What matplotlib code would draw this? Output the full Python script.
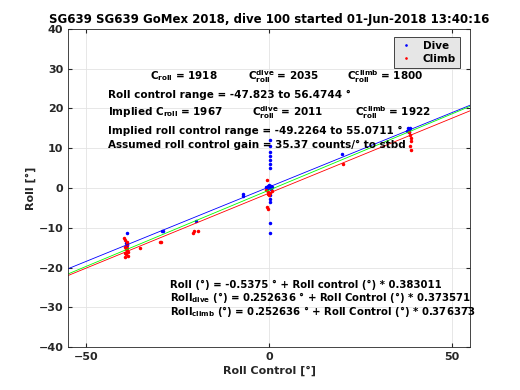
import matplotlib
matplotlib.use('Agg')
import matplotlib.pyplot as plt
import numpy as np

# Данные: точки погружения (dive) и всплытия (climb)
dive_x = [-38.9, -39.1, -39.0, -29.3, -29.0, -20.0, -7.1, -7.2,
          -0.8, -0.3, 0.2, 0.6, 0.9, 0.4, -0.5, 0.0,
          0.3, 0.3, 0.3, 0.3, 0.3, 0.3, 0.3, 0.3, 0.3, 0.3, 0.3, 0.3,
          20.0, 38.0, 38.4, 38.2, 38.6, 37.8]
dive_y = [-11.2, -13.8, -14.4, -10.8, -10.9, -8.4, -1.5, -2.0,
          0.2, 0.6, 0.0, 0.5, 0.2, -0.3, -0.2, 0.8,
          12.0, 10.5, 9.0, 8.0, 7.0, 6.0, 5.0, -1.8, -2.8, -3.5, -8.8, -11.3,
          8.5, 15.0, 14.6, 14.0, 15.2, 14.4]

climb_x = [-39.6, -39.3, -39.0, -38.8, -39.5, -39.2, -38.9, -39.4, -39.1, -38.7, -39.3, -38.6, -39.0,
           -35.2, -29.6, -29.8, -20.8, -20.5, -19.5,
           -0.5, -0.8, -0.2, 0.3, 0.8, -0.4, 0.1, -0.6, -0.2,
           20.1, 38.3, 38.6, 38.9, 38.7, 38.5, 38.8]
climb_y = [-12.6, -13.0, -13.5, -14.2, -14.8, -15.3, -15.8, -16.3, -16.7, -17.1, -17.4, -16.0, -15.0,
           -15.1, -13.5, -13.7, -11.3, -10.8, -10.7,
           2.0, -0.5, -0.9, -1.2, -0.7, -1.5, -1.8, -4.8, -5.2,
           6.0, 14.0, 13.3, 12.5, 11.8, 10.5, 9.5]

# Линии аппроксимации: (пересечение, наклон)
fit_names = ['dive', 'all', 'climb']
fit_icpt = [0.2526, -0.5375, -1.3]
fit_slope = [0.3736, 0.3830, 0.3764]
fit_colors = ['b', 'lime', 'r']
line_x = [-55, 55]

plt.rcParams['font.family'] = 'DejaVu Sans'
plt.rcParams['font.weight'] = 'bold'
plt.rcParams['mathtext.fontset'] = 'dejavusans'
plt.rcParams['mathtext.default'] = 'bf'

fig = plt.figure(figsize=(5.2, 3.9), dpi=100)
ax = fig.add_axes([0.131, 0.110, 0.773, 0.816])

ax.plot(dive_x, dive_y, '.', color='b', markersize=3, label='Dive')
ax.plot(climb_x, climb_y, '.', color='r', markersize=3, label='Climb')
for a, b, c in zip(fit_icpt, fit_slope, fit_colors):
    xs = np.array(line_x)
    ax.plot(xs, a + b * xs, color=c, linewidth=0.6)

ax.set_xlim(-55, 55)
ax.set_ylim(-40, 40)
ax.set_xticks([-50, 0, 50])
ax.set_yticks(np.arange(-40, 41, 10))
ax.grid(True, color='#e3e3e3', linewidth=0.6)
ax.set_axisbelow(True)
ax.tick_params(direction='in', top=True, right=True, labelsize=8, length=3,
               color='#262626', labelcolor='#262626')
for lab in ax.get_xticklabels() + ax.get_yticklabels():
    lab.set_fontweight('bold')
for s in ax.spines.values():
    s.set_color('#262626')
    s.set_linewidth(0.6)

ax.set_xlabel('Roll Control [°]', fontsize=8, fontweight='bold', color='#262626', labelpad=3)
ax.set_ylabel('Roll [°]', fontsize=8, fontweight='bold', color='#262626', labelpad=2)
ax.set_title('SG639 SG639 GoMex 2018, dive 100 started 01-Jun-2018 13:40:16',
             fontsize=8.5, fontweight='bold', pad=4)

fs = 7.5
kw = dict(fontsize=fs, fontweight='bold', va='center')
ax.text(-32.5, 28.0, r'$C_{roll}$ = 1918', **kw)
ax.text(-5.7, 28.0, r'$C^{dive}_{roll}$ = 2035', **kw)
ax.text(21.3, 28.0, r'$C^{climb}_{roll}$ = 1800', **kw)
ax.text(-44, 23.4, 'Roll control range = -47.823 to 56.4744 °', **kw)
ax.text(-44, 19.0, r'Implied $C_{roll}$ = 1967', **kw)
ax.text(-4.7, 19.0, r'$C^{dive}_{roll}$ = 2011', **kw)
ax.text(23.5, 19.0, r'$C^{climb}_{roll}$ = 1922', **kw)
ax.text(-44, 14.3, 'Implied roll control range = -49.2264 to 55.0711 °', **kw)
ax.text(-44, 10.8, 'Assumed roll control gain = 35.37 counts/° to stbd', **kw)

kw2 = dict(fontsize=7.3, fontweight='bold', va='center')
ax.text(-27, -24.4, 'Roll (°) = -0.5375 ° + Roll control (°) * 0.383011', **kw2)
ax.text(-27, -27.6, r'Roll$_{dive}$ (°) = 0.252636 ° + Roll Control (°) * 0.373571', **kw2)
ax.text(-27, -31.0, r'Roll$_{climb}$ (°) = 0.252636 ° + Roll Control (°) * 0.376373', **kw2)

leg = ax.legend(loc='upper right', fontsize=7.5, markerscale=0.6, handlelength=1.5,
                fancybox=False, framealpha=1, borderpad=0.4, labelspacing=0.3,
                borderaxespad=0, bbox_to_anchor=(0.975, 0.975))
leg.get_frame().set_facecolor('#e6e6e6')
leg.get_frame().set_edgecolor('#262626')
leg.get_frame().set_linewidth(0.6)
for t in leg.get_texts():
    t.set_fontweight('bold')

fig.savefig('out.png', dpi=100, facecolor='white')
